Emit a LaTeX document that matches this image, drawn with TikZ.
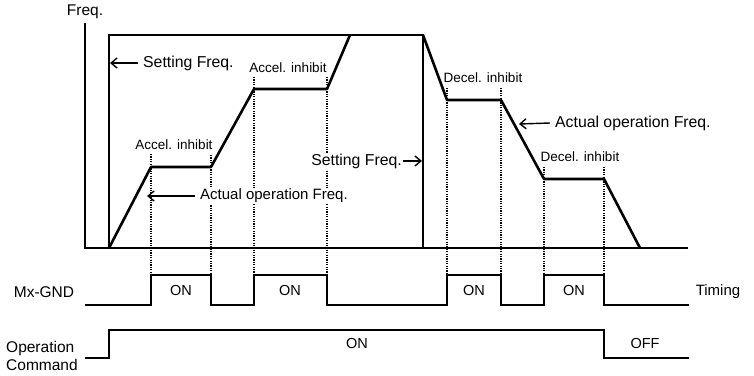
\documentclass[tikz,border=0pt]{standalone}
\usepackage{fontspec}
\setmainfont{Liberation Sans}
\usetikzlibrary{arrows.meta}
\begin{document}
\begin{tikzpicture}[x=1pt,y=-1pt,
  axis/.style={line width=2pt},
  setf/.style={line width=1.6pt},
  actf/.style={line width=2.6pt,line join=round},
  dotl/.style={line width=1.2pt,dash pattern=on 1.1pt off 1.3pt},
  sig/.style={line width=1.9pt,line join=miter},
  lbl/.style={inner sep=1pt,fill=white,font=\fontsize{15.5}{17}\selectfont},
  small/.style={inner sep=1pt,fill=white,font=\fontsize{13.5}{15}\selectfont},
  arr/.style={-{Straight Barb[length=6pt,width=10pt]},line width=1.4pt}]
\useasboundingbox (0,0) rectangle (754,375);
% key points
\coordinate (o) at (85,248);
\coordinate (xend) at (688,248);
\coordinate (ytop) at (85,23);
\coordinate (s0) at (109,248);
\coordinate (s1) at (109,35);
\coordinate (s2) at (423,35);
\coordinate (s3) at (423,248);
\coordinate (a1) at (151,167);
\coordinate (a2) at (211,167);
\coordinate (a3) at (254,89);
\coordinate (a4) at (327,89);
\coordinate (a5) at (350,35);
\coordinate (d1) at (447,100);
\coordinate (d2) at (501,100);
\coordinate (d3) at (544,179);
\coordinate (d4) at (604,179);
\coordinate (d5) at (640,248);
\coordinate (ptop) at (0,275);
% dotted guide lines
\foreach \c/\t in {a1/154,a2/155,a3/77,a4/77,d1/88,d2/88,d3/167,d4/167}
  \draw[dotl] (\c |- 0,\t) -- (\c |- ptop);
% axes
\node[lbl,fill=none] (freq) at (85,12) {Freq.};
\draw[axis] (ytop) -- (o) -- (xend);
% setting frequency
\draw[setf] (s0) -- (s1) -- (s2) -- (s3);
% actual frequency
\draw[actf] (s0) -- (a1) -- (a2) -- (a3) -- (a4) -- (a5);
\draw[actf] (s2) -- (d1) -- (d2) -- (d3) -- (d4) -- (d5);
% labels
\node[lbl,anchor=west,font=\fontsize{15.8}{17}\selectfont] (sf1) at (142,63) {Setting Freq.};
\coordinate (sf1t) at (110,63);
\draw[arr] ([xshift=-4pt]sf1.west) -- (sf1t);
\node[lbl,anchor=east,font=\fontsize{15.8}{17}\selectfont] (sf2) at (403,161) {Setting Freq.};
\coordinate (sf2t) at (422,161);
\draw[arr] (sf2.east) -- (sf2t);
\node[lbl,anchor=west,font=\fontsize{15}{17}\selectfont] (af1) at (199,196) {Actual operation Freq.};
\coordinate (af1t) at (147,196);
\draw[arr] ([xshift=-4pt]af1.west) -- (af1t);
\node[lbl,anchor=west,font=\fontsize{15.8}{17}\selectfont] (af2) at (554,123) {Actual operation Freq.};
\coordinate (af2t) at (519,124);
\draw[arr] ([xshift=-4pt]af2.west) -- (af2t);
\node[small] (ai1) at (174,145) {Accel. inhibit};
\node[small] (ai2) at (288,68) {Accel. inhibit};
\node[small] (di1) at (483,78) {Decel. inhibit};
\node[small] (di2) at (580,157) {Decel. inhibit};
% Mx-GND timing
\node[lbl,fill=none] (mx) at (44,292) {Mx-GND};
\draw[sig] (85,305) -- (151,305) -- (151,275) -- (211,275) -- (211,305)
  -- (254,305) -- (254,275) -- (327,275) -- (327,305)
  -- (447,305) -- (447,275) -- (501,275) -- (501,305)
  -- (544,305) -- (544,275) -- (604,275) -- (604,305) -- (689,305);
\node[lbl,fill=none,font=\fontsize{14.5}{16}\selectfont] (on1) at (181,291) {ON};
\node[lbl,fill=none,font=\fontsize{14.5}{16}\selectfont] (on2) at (290,291) {ON};
\node[lbl,fill=none,font=\fontsize{14.5}{16}\selectfont] (on3) at (474,291) {ON};
\node[lbl,fill=none,font=\fontsize{14.5}{16}\selectfont] (on4) at (574,291) {ON};
\node[lbl,fill=none,font=\fontsize{15}{17}\selectfont] (tim) at (718,292) {Timing};
% operation command
\node[lbl,fill=none,anchor=west] (op) at (5,348) {Operation};
\node[lbl,fill=none,anchor=west] (cmd) at (5,365) {Command};
\draw[sig] (85,358) -- (109,358) -- (109,330) -- (604,330) -- (604,358) -- (689,358);
\node[lbl,fill=none,font=\fontsize{14.5}{16}\selectfont] (on5) at (357,344) {ON};
\node[lbl,fill=none,font=\fontsize{14.5}{16}\selectfont] (off) at (645,344) {OFF};
\end{tikzpicture}
\end{document}
